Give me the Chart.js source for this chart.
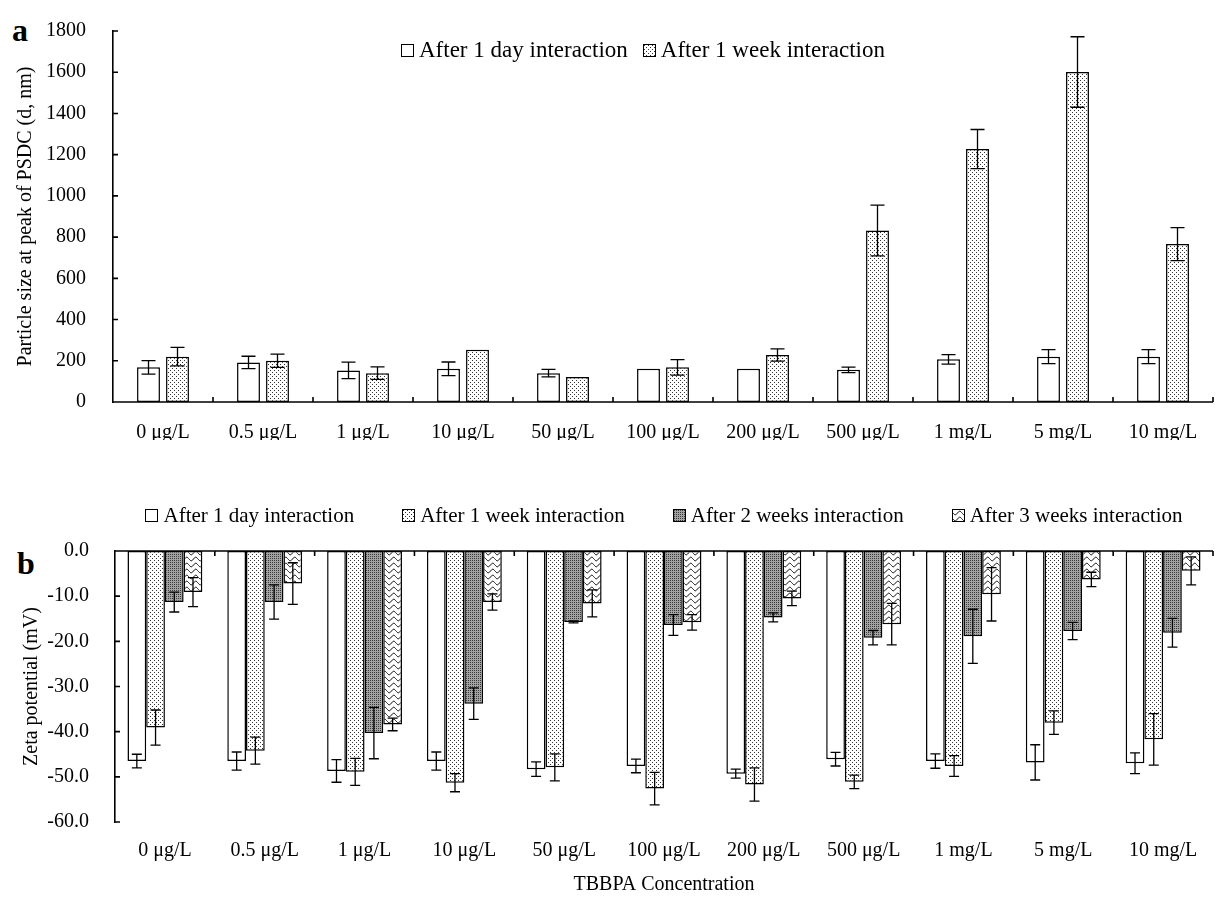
<!DOCTYPE html>
<html>
<head>
<meta charset="utf-8">
<script src="https://cdn.jsdelivr.net/npm/chart.js@4.4.0/dist/chart.umd.min.js"></script>
<style>
body { margin: 0; background: #fff; width: 1223px; height: 897px; position: relative; overflow: hidden; font-family: "Liberation Serif", serif; color: #000; }
canvas { position: absolute; left: 0; }
#chartA { top: 0; }
#chartB { top: 490px; }
.tag { position: absolute; font-weight: bold; font-size: 32px; line-height: 32px; }
.legend { position: absolute; display: flex; justify-content: center; align-items: center; white-space: nowrap; line-height: 24px; }
.legend .item { display: flex; align-items: center; }
.legend i { display: inline-block; width: 11px; height: 11px; border: 1px solid #000; margin-right: 5px; }
</style>
</head>
<body>
<div class="tag" style="left:12px;top:14px">a</div>
<div class="tag" style="left:17px;top:547px">b</div>
<canvas id="chartA" width="1223" height="440"></canvas>
<canvas id="chartB" width="1223" height="407"></canvas>
<div id="legendA" class="legend" style="left:93px;width:1100px;top:38px;font-size:23px"></div>
<div id="legendB" class="legend" style="left:115px;width:1098px;top:503px;font-size:21px"></div>
<script>
const categories = ['0 μg/L', '0.5 μg/L', '1 μg/L', '10 μg/L', '50 μg/L', '100 μg/L', '200 μg/L', '500 μg/L', '1 mg/L', '5 mg/L', '10 mg/L'];

// panel a: particle size (nm)
const sizeDay = [168, 192, 153, 161, 140, 161, 161, 156, 207, 220, 220];
const sizeDayErr = [33, 30, 40, 33, 18, 0, 0, 13, 23, 34, 34];
const sizeWeek = [220, 200, 140, 253, 121, 168, 228, 832, 1227, 1601, 766];
const sizeWeekErr = [45, 32, 30, 0, 0, 38, 30, 123, 95, 171, 80];
const sizeTicks = [0, 200, 400, 600, 800, 1000, 1200, 1400, 1600, 1800];

// panel b: zeta potential (mV)
const zetaDay = [-46.5, -46.5, -48.7, -46.5, -48.3, -47.6, -49.3, -46.1, -46.5, -46.8, -47.0];
const zetaDayErr = [1.5, 2.0, 2.5, 2.0, 1.6, 1.5, 1.0, 1.5, 1.6, 3.9, 2.3];
const zetaWeek = [-39.1, -44.2, -48.9, -51.3, -47.9, -52.6, -51.7, -51.1, -47.6, -38.0, -41.7];
const zetaWeekErr = [3.9, 3.0, 3.0, 2.0, 3.0, 3.6, 3.7, 1.5, 2.3, 2.6, 5.7];
const zeta2Weeks = [-11.3, -11.3, -40.3, -33.8, -15.7, -16.4, -14.7, -19.2, -18.9, -17.7, -18.1];
const zeta2WeeksErr = [2.2, 3.8, 5.7, 3.5, 0.2, 2.3, 1.0, 1.6, 6.0, 1.9, 3.2];
const zeta3Weeks = [-9.1, -7.2, -38.4, -11.3, -11.6, -15.8, -10.5, -16.2, -9.6, -6.3, -4.4];
const zeta3WeeksErr = [3.2, 4.6, 1.4, 1.8, 3.0, 1.7, 1.6, 4.6, 5.9, 1.6, 3.1];
const zetaTicks = [-60, -50, -40, -30, -20, -10, 0];

Chart.defaults.font.family = '"Liberation Serif", serif';
Chart.defaults.color = '#000';

// fill patterns
function tile(w, h, paint) {
  const c = document.createElement('canvas');
  c.width = w; c.height = h;
  paint(c.getContext('2d'));
  return c;
}
const whiteTile = tile(4, 4, g => { g.fillStyle = '#fff'; g.fillRect(0, 0, 4, 4); });
const dotTile = tile(4, 4, g => {
  g.fillStyle = '#fff'; g.fillRect(0, 0, 4, 4);
  g.fillStyle = '#333'; g.fillRect(0, 0, 1, 1); g.fillRect(2, 2, 1, 1);
});
const darkTile = tile(2, 2, g => {
  g.fillStyle = '#a2a2a2'; g.fillRect(0, 0, 2, 2);
  g.fillStyle = '#3a3a3a'; g.fillRect(0, 0, 1, 1);
});
const waveTile = tile(9, 6, g => {
  g.fillStyle = '#fff'; g.fillRect(0, 0, 9, 6);
  g.strokeStyle = '#000'; g.lineWidth = 1;
  g.beginPath();
  for (let x = 0; x <= 9; x += 0.5) {
    const y = 3 + 1.8 * Math.sin(2 * Math.PI * x / 9);
    if (x === 0) g.moveTo(x, y); else g.lineTo(x, y);
  }
  g.stroke();
});

// axis line at zero, inward tick marks, error bars
const axisFrame = {
  id: 'axisFrame',
  afterDatasetsDraw(chart, args, opts) {
    const {ctx, chartArea: area, scales: {x, y}} = chart;
    const y0 = y.getPixelForValue(0);
    const dir = y0 > (area.top + area.bottom) / 2 ? -1 : 1;
    ctx.save();
    ctx.strokeStyle = '#000';
    ctx.lineWidth = 1.3;
    chart.data.datasets.forEach((ds, i) => {
      chart.getDatasetMeta(i).data.forEach((bar, j) => {
        const e = ds.errors[j];
        if (!e) return;
        const v = ds.data[j];
        const t = y.getPixelForValue(v + e), b = y.getPixelForValue(v - e);
        ctx.beginPath();
        ctx.moveTo(bar.x, t); ctx.lineTo(bar.x, b);
        ctx.moveTo(bar.x - opts.cap, t); ctx.lineTo(bar.x + opts.cap, t);
        ctx.moveTo(bar.x - opts.cap, b); ctx.lineTo(bar.x + opts.cap, b);
        ctx.stroke();
      });
    });
    ctx.lineWidth = 1.6;
    ctx.beginPath();
    ctx.moveTo(area.left, y0); ctx.lineTo(area.right, y0);
    const n = x.ticks.length;
    for (let i = 1; i <= n; i++) {
      const px = i < n ? (x.getPixelForTick(i - 1) + x.getPixelForTick(i)) / 2 : area.right;
      ctx.moveTo(px, y0); ctx.lineTo(px, y0 + dir * 5);
    }
    y.ticks.forEach(t => {
      const py = y.getPixelForValue(t.value);
      ctx.moveTo(area.left, py); ctx.lineTo(area.left + 5, py);
    });
    ctx.stroke();
    ctx.restore();
  }
};

function barSet(ctx, label, data, errors, tileCanvas) {
  return {
    label: label,
    data: data,
    errors: errors,
    swatch: tileCanvas.toDataURL(),
    backgroundColor: ctx.createPattern(tileCanvas, 'repeat'),
    borderColor: '#000',
    borderWidth: 1.5,
    borderSkipped: false
  };
}

function htmlLegend(chart, el, gap) {
  chart.data.datasets.forEach((ds, i) => {
    const item = document.createElement('span');
    item.className = 'item';
    if (i < chart.data.datasets.length - 1) item.style.marginRight = gap + 'px';
    const box = document.createElement('i');
    box.style.backgroundImage = 'url(' + ds.swatch + ')';
    item.appendChild(box);
    item.appendChild(document.createTextNode(ds.label));
    el.appendChild(item);
  });
}

const tickFont = {size: 20};
const titleFont = {size: 20};

const ctxA = document.getElementById('chartA').getContext('2d');
const chartA = new Chart(ctxA, {
  type: 'bar',
  data: {
    labels: categories,
    datasets: [
      barSet(ctxA, 'After 1 day interaction', sizeDay, sizeDayErr, whiteTile),
      barSet(ctxA, 'After 1 week interaction', sizeWeek, sizeWeekErr, dotTile)
    ]
  },
  options: {
    responsive: false,
    animation: false,
    categoryPercentage: 0.58,
    barPercentage: 0.79,
    layout: {padding: {top: 25, right: 10, left: 0, bottom: 0}},
    plugins: {legend: {display: false}, tooltip: {enabled: false}, axisFrame: {cap: 7}},
    scales: {
      x: {
        grid: {display: false},
        border: {display: false},
        ticks: {font: tickFont, padding: 11, maxRotation: 0},
        afterFit: s => { s.height = 38; }
      },
      y: {
        min: sizeTicks[0],
        max: sizeTicks[sizeTicks.length - 1],
        grid: {display: false},
        border: {display: true, color: '#000', width: 1.6},
        ticks: {font: tickFont, padding: 19, stepSize: sizeTicks[1] - sizeTicks[0], callback: v => String(v)},
        title: {display: true, text: 'Particle size at peak of PSDC (d, nm)', font: titleFont, padding: {top: 14, bottom: 0}},
        afterFit: s => { s.width = 113; }
      }
    }
  },
  plugins: [axisFrame]
});

const ctxB = document.getElementById('chartB').getContext('2d');
const chartB = new Chart(ctxB, {
  type: 'bar',
  data: {
    labels: categories,
    datasets: [
      barSet(ctxB, 'After 1 day interaction', zetaDay, zetaDayErr, whiteTile),
      barSet(ctxB, 'After 1 week interaction', zetaWeek, zetaWeekErr, dotTile),
      barSet(ctxB, 'After 2 weeks interaction', zeta2Weeks, zeta2WeeksErr, darkTile),
      barSet(ctxB, 'After 3 weeks interaction', zeta3Weeks, zeta3WeeksErr, waveTile)
    ]
  },
  options: {
    responsive: false,
    animation: false,
    categoryPercentage: 0.75,
    barPercentage: 1.0,
    layout: {padding: {top: 61, right: 10, left: 0, bottom: 0}},
    plugins: {legend: {display: false}, tooltip: {enabled: false}, axisFrame: {cap: 5}},
    scales: {
      x: {
        grid: {display: false},
        border: {display: false},
        ticks: {font: tickFont, padding: 9, maxRotation: 0},
        title: {display: true, text: 'TBBPA Concentration', font: titleFont, padding: {top: 18, bottom: 0}},
        afterFit: s => { s.height = 75; }
      },
      y: {
        min: zetaTicks[0],
        max: zetaTicks[zetaTicks.length - 1],
        grid: {display: false},
        border: {display: true, color: '#000', width: 1.6},
        ticks: {font: tickFont, padding: 18, stepSize: zetaTicks[1] - zetaTicks[0], callback: v => v.toFixed(1)},
        title: {display: true, text: 'Zeta potential (mV)', font: titleFont, padding: {top: 20, bottom: 0}},
        afterFit: s => { s.width = 115; }
      }
    }
  },
  plugins: [axisFrame]
});

htmlLegend(chartA, document.getElementById('legendA'), 15);
htmlLegend(chartB, document.getElementById('legendB'), 48);
</script>
</body>
</html>
